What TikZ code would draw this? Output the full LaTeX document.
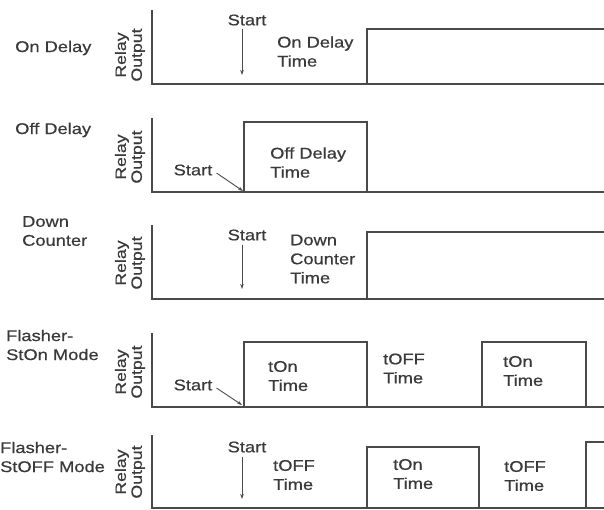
\documentclass[tikz,border=0pt]{standalone}
\usepackage{fontspec}
\setmainfont{Liberation Sans}[FakeStretch=1.18,FakeBold=0.6]
\usetikzlibrary{arrows.meta}
\definecolor{ink}{HTML}{4A4A4A}
\definecolor{txt}{HTML}{3A3A3A}
\begin{document}
\begin{tikzpicture}[x=1pt,y=-1pt,
  lbl/.style={anchor=west,inner sep=0pt,align=left,text=txt,font=\fontsize{15.5}{19}\selectfont},
  ctr/.style={inner sep=0pt,align=center,text=txt,font=\fontsize{15.5}{19}\selectfont},
  relay/.style={rotate=90,inner sep=0pt,align=center,text=txt,font=\fontsize{15}{16}\selectfont},
  wave/.style={draw=ink,line width=1.8pt,line join=miter},
  startarrow/.style={draw=ink,line width=0.9pt,-{Stealth[length=5pt,width=3.5pt]}}
]
\useasboundingbox (0,0) rectangle (604,509);

% ---------- Row 1: On Delay ----------
\node[lbl] (l1) at (15,48) {On Delay};
\node[relay] (r1) at (130,55) {Relay\\Output};
\draw[wave] (152,10) -- (152,84) -- (604,84);
\draw[wave] (367,84) -- (367,29) -- (604,29);
\node[ctr] (s1) at (247,20) {Start};
\coordinate (e1) at (242,75);
\draw[startarrow] (s1.south -| e1) ++(0,3) -- (e1);
\node[lbl] (t1) at (277,51.5) {On Delay\\Time};

% ---------- Row 2: Off Delay ----------
\node[lbl] (l2) at (15,130) {Off Delay};
\node[relay] (r2) at (130,157) {Relay\\Output};
\draw[wave] (152,118) -- (152,192) -- (604,192);
\draw[wave] (244,192) -- (244,122) -- (367,122) -- (367,192);
\node[ctr] (s2) at (193,170) {Start};
\coordinate (e2) at (243,191);
\draw[startarrow] ([xshift=4pt,yshift=-3pt]s2.east) -- (e2);
\node[lbl] (t2) at (270,162.5) {Off Delay\\Time};

% ---------- Row 3: Down Counter ----------
\node[lbl] (l3) at (22,231) {Down\\Counter};
\node[relay] (r3) at (130,263) {Relay\\Output};
\draw[wave] (152,225) -- (152,299) -- (604,299);
\draw[wave] (367,299) -- (367,232) -- (604,232);
\node[ctr] (s3) at (247,235) {Start};
\coordinate (e3) at (242,289);
\draw[startarrow] (s3.south -| e3) ++(0,4) -- (e3);
\node[lbl] (t3) at (290,259) {Down\\Counter\\Time};

% ---------- Row 4: Flasher StOn ----------
\node[lbl] (l4) at (6,345) {Flasher-\\StOn Mode};
\node[relay] (r4) at (130,372) {Relay\\Output};
\draw[wave] (152,333) -- (152,407) -- (604,407);
\draw[wave] (244,407) -- (244,342) -- (367,342) -- (367,407);
\draw[wave] (482,407) -- (482,342) -- (586,342) -- (586,407);
\node[ctr] (s4) at (193,385) {Start};
\coordinate (e4) at (242,405);
\draw[startarrow] ([xshift=4pt,yshift=-3pt]s4.east) -- (e4);
\node[lbl] (t4a) at (268,376) {tOn\\Time};
\node[lbl] (t4b) at (383,368.5) {tOFF\\Time};
\node[lbl] (t4c) at (503,371) {tOn\\Time};

% ---------- Row 5: Flasher StOFF ----------
\node[lbl] (l5) at (0,457) {Flasher-\\StOFF Mode};
\node[relay] (r5) at (130,472) {Relay\\Output};
\draw[wave] (152,435) -- (152,508) -- (604,508);
\draw[wave] (367,508) -- (367,447) -- (479,447) -- (479,508);
\draw[wave] (586,508) -- (586,442) -- (604,442);
\node[ctr] (s5) at (247,447) {Start};
\coordinate (e5) at (242,499);
\draw[startarrow] (s5.south -| e5) ++(0,4) -- (e5);
\node[lbl] (t5a) at (273,475) {tOFF\\Time};
\node[lbl] (t5b) at (393,474) {tOn\\Time};
\node[lbl] (t5c) at (504,476) {tOFF\\Time};
\end{tikzpicture}
\end{document}
